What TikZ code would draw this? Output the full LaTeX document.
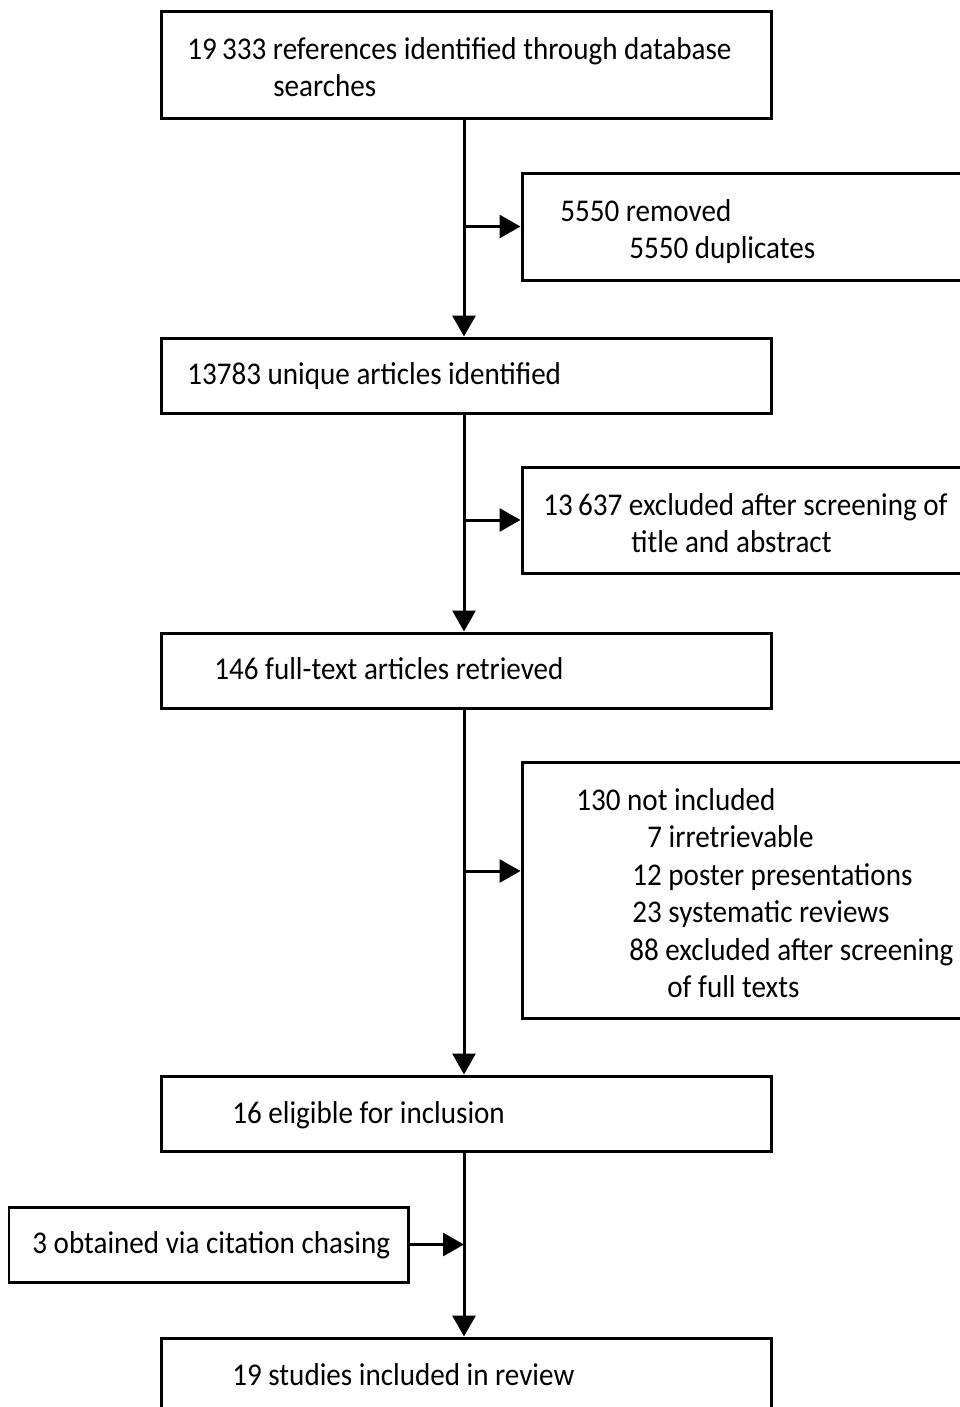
\documentclass[tikz,border=0pt]{standalone}
\usepackage{fontspec}
\setmainfont{Carlito}[FakeStretch=0.92]
\usetikzlibrary{fit,arrows.meta}
\begin{document}
\begin{tikzpicture}[x=0.02cm,y=-0.02cm,
  box/.style={draw,line width=0.06cm,inner sep=0pt},
  arr/.style={line width=0.06cm,-{Triangle[length=0.42cm,width=0.46cm]}},
  txt/.style={anchor=base west,inner sep=0pt,font=\fontsize{18pt}{21pt}\selectfont}]
\useasboundingbox (0,0) rectangle (960,1407);
\clip (0,0) rectangle (960,1407);
% boxes
\node[box,fit={(161,11)(771,118)}] (b1) {};
\node[box,fit={(522,173)(1000,280)}] (b2) {};
\node[box,fit={(161,338)(771,413)}] (b3) {};
\node[box,fit={(522,467)(1000,573)}] (b4) {};
\node[box,fit={(161,633)(771,708)}] (b5) {};
\node[box,fit={(522,762)(1000,1018)}] (b6) {};
\node[box,fit={(161,1076)(771,1151)}] (b7) {};
\node[box,fit={(9,1207)(408,1282)}] (b8) {};
\node[box,fit={(161,1338)(771,1460)}] (b9) {};
% texts
\node[txt] (t1a) at (187,59) {19\,333 references identified through database};
\node[txt] (t1b) at (273,96) {searches};
\node[txt] (t2a) at (560,221) {5550 removed};
\node[txt] (t2b) at (629,258) {5550 duplicates};
\node[txt] (t3) at (187,384) {13783 unique articles identified};
\node[txt] (t4a) at (543,515) {13\,637 excluded after screening of};
\node[txt] (t4b) at (631,552) {title and abstract};
\node[txt] (t5) at (214,679) {146 full-text articles retrieved};
\node[txt] (t6a) at (576,810) {130 not included};
\node[txt] (t6b) at (647,847) {7 irretrievable};
\node[txt] (t6c) at (632,885) {12 poster presentations};
\node[txt] (t6d) at (632,922) {23 systematic reviews};
\node[txt] (t6e) at (629,960) {88 excluded after screening};
\node[txt] (t6f) at (667,997) {of full texts};
\node[txt] (t7) at (232,1123) {16 eligible for inclusion};
\node[txt] (t8) at (32,1253) {3 obtained via citation chasing};
\node[txt] (t9) at (232,1385) {19 studies included in review};
% connectors
\coordinate (trunk) at (464,0);
\coordinate (c6) at (464,871);
\draw[arr] (b1.south -| trunk) -- (b3.north -| trunk);
\draw[arr] (b3.south -| trunk) -- (b5.north -| trunk);
\draw[arr] (b5.south -| trunk) -- (b7.north -| trunk);
\draw[arr] (b7.south -| trunk) -- (b9.north -| trunk);
\draw[arr] (trunk |- b2.west) -- (b2.west);
\draw[arr] (trunk |- b4.west) -- (b4.west);
\draw[arr] (c6) -- (b6.west |- c6);
\draw[arr] (b8.east) -- (b8.east -| trunk);
\end{tikzpicture}
\end{document}
